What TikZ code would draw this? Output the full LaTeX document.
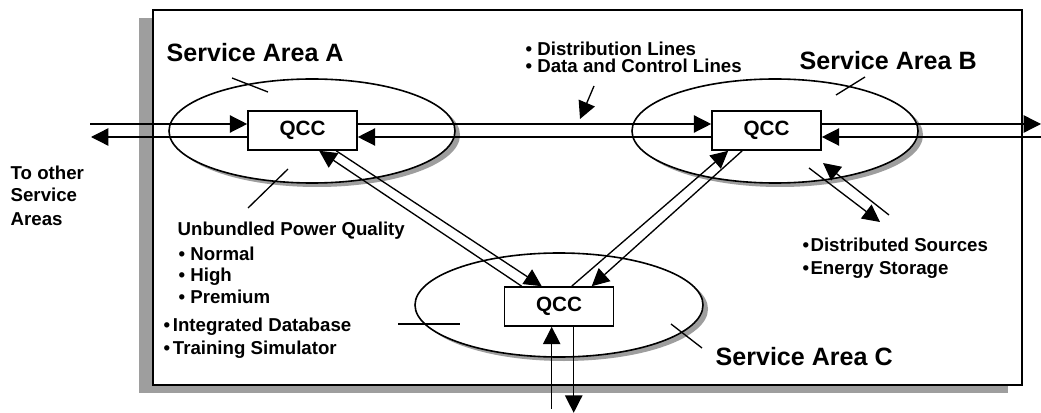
\documentclass[tikz,border=0pt]{standalone}
\usepackage{fontspec}
\setmainfont{Liberation Sans}
\usepackage{tikz}
\usetikzlibrary{calc,arrows.meta,shapes.geometric,shadows}

\begin{document}
\begin{tikzpicture}[x=0.75pt,y=-0.75pt,line width=1pt,
 arr/.style={-{Triangle[length=13pt,width=13pt]}},
 area/.style={ellipse,draw,fill=white,line width=1.2pt,minimum width=214.5pt,minimum height=78pt,
  drop shadow={shadow xshift=3.75pt,shadow yshift=-3pt,fill=black!38,opacity=1}},
 qcc/.style={rectangle,draw,fill=white,line width=1.2pt,inner sep=0pt,minimum width=81.75pt,
  minimum height=29.25pt,font=\bfseries\fontsize{15.5}{18}\selectfont},
 lbl/.style={anchor=base west,inner sep=0pt,font=\bfseries\fontsize{14}{16}\selectfont},
 title/.style={anchor=base west,inner sep=0pt,font=\bfseries\fontsize{18.8}{22}\selectfont}]
 \useasboundingbox (0,0) rectangle (1041,413);
 % frame with its shadow
 \node[draw,fill=white,line width=1.2pt,inner sep=0pt,minimum width=651.75pt,minimum height=281.25pt,
  drop shadow={shadow xshift=-10.5pt,shadow yshift=-6pt,fill=black!38,opacity=1}] (frame) at (587.5,197.5) {};
 % service areas
 \node[area] (ellA) at (312,131) {};
 \node[area] (ellB) at (775,131) {};
 \node[area,minimum width=216pt] (ellC) at (559,305) {};
 \node[qcc] (qccA) at (302.5,130.5) {QCC};
 \node[qcc] (qccB) at (766.5,130.5) {QCC};
 \node[qcc] (qccC) at (559,306.5) {QCC};
 % lines between the QCCs
 \draw[arr] (90,124) -- ($(qccA.west)+(0,-6.5)$);
 \draw[arr] ($(qccA.west)+(0,6.5)$) -- (91,137);
 \draw[arr] ($(qccA.east)+(0,-6.5)$) -- ($(qccB.west)+(0,-6.5)$);
 \draw[arr] ($(qccB.west)+(0,6.5)$) -- ($(qccA.east)+(0,6.5)$);
 \draw[arr] ($(qccB.east)+(0,-6.5)$) -- (1041,124);
 \draw[arr] (1041,137) -- ($(qccB.east)+(0,6.5)$);
 \draw[arr] ($(qccC.north west)+(18,0)$) -- ($(qccA.south west)+(72,0)$);
 \draw[arr] ($(qccA.south west)+(89,0)$) -- ($(qccC.north west)+(38,0)$);
 \draw[arr] ($(qccC.north west)+(68,0)$) -- ($(qccB.south west)+(17,0)$);
 \draw[arr] ($(qccB.south west)+(31,0)$) -- ($(qccC.north west)+(88,0)$);
 \draw[arr] ($(qccC.south west)+(48,82)$) -- ($(qccC.south west)+(48,0)$);
 \draw[arr] ($(qccC.south west)+(70,0)$) -- ($(qccC.south west)+(70,86)$);
 \draw[arr] (809,168) -- (880,222);
 \draw[arr] (889,215) -- (823,163);
 \draw[arr] (594,86) -- (580,119);
 % pointers
 \draw (232,78) -- (268,92);
 \draw (248,208) -- (288,169);
 \draw (398,324) -- (460,324);
 \draw (836,95) -- (865,77);
 \draw (671,324) -- (702,348);
 % labels
 \node[title] (tA) at (166,62) {Service Area A};
 \node[title] (tB) at (799,70) {Service Area B};
 \node[title] (tC) at (715,365) {Service Area C};
 \node[lbl] (oth1) at (10,180) {To other};
 \node[lbl] (oth2) at (10,202) {Service};
 \node[lbl] (oth3) at (10,225) {Areas};
 \node[lbl] (upq) at (177,236) {Unbundled Power Quality};
 \node[lbl] (upq1) at (178,260) {• Normal};
 \node[lbl] (upq2) at (178,281) {• High};
 \node[lbl] (upq3) at (178,303) {• Premium};
 \node[lbl] (db) at (163,331) {•\kern2pt Integrated Database};
 \node[lbl] (sim) at (163,354) {•\kern2pt Training Simulator};
 \node[lbl] (dl) at (525,56) {• Distribution Lines};
 \node[lbl] (cl) at (525,73) {• Data and Control Lines};
 \node[lbl] (ds) at (802,252) {•\kern1pt Distributed Sources};
 \node[lbl] (es) at (802,274) {•\kern1pt Energy Storage};
\end{tikzpicture}
\end{document}
